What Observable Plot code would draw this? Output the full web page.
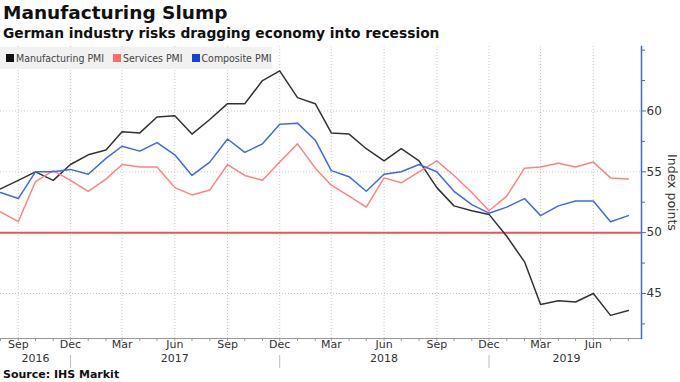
<!DOCTYPE html>
<html>
<head>
<meta charset="utf-8">
<script src="https://cdn.jsdelivr.net/npm/d3@7"></script>
<script src="https://cdn.jsdelivr.net/npm/@observablehq/plot@0.6"></script>
<style>
  html, body { margin: 0; padding: 0; background: #fff; }
  #wrap { position: relative; width: 680px; height: 382px; overflow: hidden; font-family: "DejaVu Sans", sans-serif; }
  #title { position: absolute; left: 3px; top: 2px; font-weight: bold; font-size: 18.5px; color: #111; white-space: nowrap; }
  #subtitle { position: absolute; left: 3px; top: 25px; font-weight: bold; font-size: 13.8px; color: #111; white-space: nowrap; }
  #legend { position: absolute; left: 0; top: 47px; height: 22px; width: 272px; background: #f1f1f1; display: flex; align-items: center; font-family: "DejaVu Sans Condensed", "DejaVu Sans", sans-serif; font-stretch: condensed; font-size: 10.5px; color: #444; white-space: nowrap; }
  #legend .item { display: flex; align-items: center; margin-left: 6px; }
  #legend .sw { width: 8px; height: 8px; margin-right: 2px; }
  #source { position: absolute; left: 3px; top: 369px; font-weight: bold; font-size: 11px; line-height: 12px; color: #111; white-space: nowrap; }
  svg { position: absolute; left: 0; top: 0; }
</style>
</head>
<body>
<div id="wrap">
  <div id="chart"></div>
  <div id="title">Manufacturing Slump</div>
  <div id="subtitle">German industry risks dragging economy into recession</div>
  <div id="legend"></div>
  <div id="source">Source: IHS Markit</div>
</div>
<script>
// Monthly values, Aug 2016 – Aug 2019
const months = [
  "2016-08","2016-09","2016-10","2016-11","2016-12",
  "2017-01","2017-02","2017-03","2017-04","2017-05","2017-06","2017-07","2017-08","2017-09","2017-10","2017-11","2017-12",
  "2018-01","2018-02","2018-03","2018-04","2018-05","2018-06","2018-07","2018-08","2018-09","2018-10","2018-11","2018-12",
  "2019-01","2019-02","2019-03","2019-04","2019-05","2019-06","2019-07","2019-08"
];
const manufacturing = [53.6,54.3,55.0,54.3,55.6, 56.4,56.8,58.3,58.2,59.5,59.6,58.1,59.3,60.6,60.6,62.5,63.3, 61.1,60.6,58.2,58.1,56.9,55.9,56.9,55.9,53.7,52.2,51.8,51.5, 49.7,47.6,44.1,44.4,44.3,45.0,43.2,43.6];
const services = [51.7,50.9,54.2,55.1,54.3, 53.4,54.4,55.6,55.4,55.4,53.7,53.1,53.5,55.6,54.7,54.3,55.8, 57.3,55.3,53.9,53.0,52.1,54.5,54.1,55.0,55.9,54.7,53.3,51.8, 53.0,55.3,55.4,55.7,55.4,55.8,54.5,54.4];
const composite = [53.3,52.8,55.0,55.0,55.2, 54.8,56.1,57.1,56.7,57.4,56.4,54.7,55.8,57.7,56.6,57.3,58.9, 59.0,57.6,55.1,54.6,53.4,54.8,55.0,55.6,55.0,53.4,52.3,51.6, 52.1,52.8,51.4,52.2,52.6,52.6,50.9,51.4];

const seriesNames = ["Manufacturing PMI", "Services PMI", "Composite PMI"];
const lineColors = ["#333333", "#ff8383", "#4169e6"];
const swatchColors = ["#111111", "#ff6a6a", "#1b3fd6"];

const quarterTicks = ["2016-09","2016-12","2017-03","2017-06","2017-09","2017-12","2018-03","2018-06","2018-09","2018-12","2019-03","2019-06"];
const yearLabels = ["2016","2017","2018","2019"];
const yearLabelDates = ["2016-10-01","2017-06-01","2018-06-01","2019-04-15"];
const yearSeparators = ["2016-12","2017-12","2018-12"];
const yMajorTicks = [45, 50, 55, 60];
const yMinorTicks = [42.5, 47.5, 52.5, 57.5, 62.5, 65];
const threshold = 50;

const parse = s => new Date(s.length === 7 ? s + "-01T00:00:00Z" : s + "T00:00:00Z");
const dates = months.map(parse);
const data = [];
[manufacturing, services, composite].forEach((vals, i) => {
  vals.forEach((v, j) => data.push({series: seriesNames[i], date: dates[j], value: v}));
});

// Legend
const leg = document.getElementById("legend");
seriesNames.forEach((n, i) => {
  const it = document.createElement("div");
  it.className = "item";
  if (i > 0) it.style.marginLeft = "9px";
  it.innerHTML = `<span class="sw" style="background:${swatchColors[i]}"></span><span>${n}</span>`;
  leg.appendChild(it);
});

const blue = "#3f66ea";
const fmtMonth = d3.utcFormat("%b");

const chart = Plot.plot({
  width: 680,
  height: 382,
  marginLeft: 0,
  marginRight: 39,
  marginTop: 46,
  marginBottom: 44,
  style: {fontFamily: "DejaVu Sans, sans-serif", fontSize: "12px", color: "#333", background: "transparent"},
  x: {type: "utc", domain: [parse("2016-08-01"), parse("2019-08-24")], axis: null},
  y: {domain: [41.3, 65.3], axis: null},
  color: {domain: seriesNames, range: lineColors},
  marks: [
    Plot.gridY(yMajorTicks, {stroke: "#bbb", strokeOpacity: 0.8, strokeDasharray: "1,2"}),
    Plot.gridX(quarterTicks.map(parse), {stroke: "#bbb", strokeOpacity: 0.8, strokeDasharray: "1,2"}),
    Plot.ruleY([threshold], {stroke: "#f4505c", strokeWidth: 2}),
    Plot.line(data, {x: "date", y: "value", z: "series", stroke: "series", strokeWidth: 1.5}),
    Plot.frame({anchor: "bottom", stroke: "#999"}),
    Plot.axisX({ticks: dates, tickSize: 3, text: null, stroke: "#999", label: null}),
    Plot.axisX({ticks: quarterTicks.map(parse), tickSize: 0, tickPadding: 2, tickFormat: fmtMonth, fontSize: 11, fill: "#333", label: null}),
    Plot.axisX({ticks: yearSeparators.map(parse), tickSize: 13, dy: 17, text: null, stroke: "#bbb", label: null}),
    Plot.text(yearLabels, {x: (d, i) => parse(yearLabelDates[i]), frameAnchor: "bottom", dy: 23.5, text: d => d, fontSize: 11, fill: "#333"}),
    Plot.frame({anchor: "right", stroke: blue, strokeWidth: 1.5}),
    Plot.axisY({anchor: "right", ticks: yMinorTicks, tickSize: 3, text: null, stroke: blue, label: null}),
    Plot.axisY({anchor: "right", ticks: yMajorTicks, tickSize: 4, tickPadding: 1, stroke: blue, fill: "#333", fontSize: 12, label: null}),
    Plot.text(["Index points"], {frameAnchor: "right", dx: 30, rotate: 90, textAnchor: "middle", text: d => d, fontSize: 12.5, fill: "#333"})
  ]
});
document.getElementById("chart").appendChild(chart);
</script>
</body>
</html>
